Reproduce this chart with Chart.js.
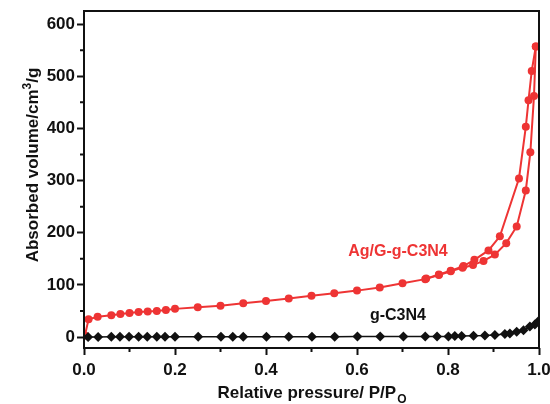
<!DOCTYPE html>
<html>
<head>
<meta charset="utf-8">
<title>N2 isotherms</title>
<script src="https://cdn.jsdelivr.net/npm/chart.js@4/dist/chart.umd.min.js"></script>
<style>
  html, body { margin: 0; padding: 0; background: #fff; }
  canvas { display: block; }
</style>
</head>
<body>
<canvas id="isothermChart" width="550" height="404"></canvas>
<script>
// Ag/G-g-C3N4, adsorption branch
const agAdsP = [0.002, 0.010, 0.030, 0.060, 0.080, 0.100, 0.120, 0.140, 0.160, 0.180, 0.200, 0.250, 0.300, 0.350, 0.400, 0.450, 0.500, 0.550, 0.600, 0.650, 0.700, 0.750, 0.780, 0.806, 0.832, 0.855, 0.878, 0.903, 0.928, 0.951, 0.971, 0.981, 0.989, 0.993];
const agAdsV = [3, 34, 39, 42, 44, 46, 48, 49, 50, 52, 54, 57, 60, 65, 69, 74, 79, 84, 89, 95, 103, 111, 119, 126, 133, 138, 146, 158, 180, 212, 281, 354, 462, 557];

// Ag/G-g-C3N4, desorption branch
const agDesP = [0.993, 0.984, 0.977, 0.971, 0.956, 0.914, 0.889, 0.858, 0.834, 0.806, 0.780, 0.752];
const agDesV = [557, 510, 454, 403, 304, 193, 166, 148, 136, 127, 120, 112];

// g-C3N4
const gcnP = [0.009, 0.031, 0.060, 0.079, 0.099, 0.120, 0.139, 0.160, 0.178, 0.200, 0.251, 0.301, 0.327, 0.350, 0.401, 0.450, 0.501, 0.551, 0.601, 0.651, 0.702, 0.750, 0.776, 0.801, 0.815, 0.830, 0.856, 0.881, 0.903, 0.925, 0.936, 0.951, 0.966, 0.980, 0.991, 0.998];
const gcnV = [0, 0.3, 0.4, 0.5, 0.5, 0.5, 0.5, 0.5, 0.5, 0.5, 0.6, 0.6, 0.6, 0.6, 0.7, 0.7, 0.8, 0.8, 0.9, 0.9, 1, 1, 1, 1.2, 2, 2, 2.5, 3, 4, 6, 7, 10, 13, 20, 24, 30];

// axes
const xTicks = [0, 0.2, 0.4, 0.6, 0.8, 1.0];
const xMinor = [0.1, 0.3, 0.5, 0.7, 0.9];
const yTicks = [0, 100, 200, 300, 400, 500, 600];
const yMinor = [50, 150, 250, 350, 450, 550];

const RED = '#ee3434';
const INK = '#111';
const FONT = '"Liberation Sans", Arial, sans-serif';

const pairs = (xs, ys) => xs.map((x, i) => ({ x: x, y: ys[i] }));

// box, minor ticks, axis titles and curve labels
const decorations = {
  id: 'decorations',
  afterDraw(chart) {
    const { ctx, chartArea: a, scales: { x, y } } = chart;
    ctx.save();
    ctx.strokeStyle = INK;
    ctx.lineWidth = 2;
    ctx.strokeRect(a.left, a.top, a.right - a.left, a.bottom - a.top);

    ctx.beginPath();
    xMinor.forEach(v => {
      const px = x.getPixelForValue(v);
      ctx.moveTo(px, a.bottom);
      ctx.lineTo(px, a.bottom + 4);
    });
    yMinor.forEach(v => {
      const py = y.getPixelForValue(v);
      ctx.moveTo(a.left, py);
      ctx.lineTo(a.left - 4, py);
    });
    ctx.stroke();

    ctx.fillStyle = INK;
    ctx.textBaseline = 'alphabetic';
    ctx.textAlign = 'left';

    // x title with subscript
    const big = 'bold 17px ' + FONT;
    const small = 'bold 12px ' + FONT;
    const xMain = 'Relative pressure/ P/P';
    const xSub = 'O';
    ctx.font = big;
    const w1 = ctx.measureText(xMain).width;
    ctx.font = small;
    const w2 = ctx.measureText(xSub).width;
    let sx = (a.left + a.right) / 2 - (w1 + w2) / 2;
    ctx.font = big;
    ctx.fillText(xMain, sx, 398);
    ctx.font = small;
    ctx.fillText(xSub, sx + w1 + 1, 403);

    // y title with superscript
    const yA = 'Absorbed volume/cm';
    const yS = '3';
    const yB = '/g';
    ctx.font = big;
    const wa = ctx.measureText(yA).width;
    const wb = ctx.measureText(yB).width;
    ctx.font = small;
    const ws = ctx.measureText(yS).width;
    ctx.translate(38, 165);
    ctx.rotate(-Math.PI / 2);
    let tx = -(wa + ws + wb) / 2;
    ctx.font = big;
    ctx.fillText(yA, tx, 0);
    ctx.font = small;
    ctx.fillText(yS, tx + wa, -7);
    ctx.font = big;
    ctx.fillText(yB, tx + wa + ws, 0);
    ctx.setTransform(1, 0, 0, 1, 0, 0);

    // curve labels
    ctx.font = 'bold 16px ' + FONT;
    ctx.textAlign = 'center';
    ctx.textBaseline = 'middle';
    ctx.fillStyle = RED;
    ctx.fillText('Ag/G-g-C3N4', x.getPixelForValue(0.69), y.getPixelForValue(163));
    ctx.fillStyle = INK;
    ctx.fillText('g-C3N4', x.getPixelForValue(0.69), y.getPixelForValue(42));
    ctx.restore();
  }
};

const redSeries = (label, data) => ({
  label: label,
  data: data,
  showLine: true,
  borderColor: RED,
  backgroundColor: RED,
  borderWidth: 2,
  pointStyle: 'circle',
  pointRadius: 4,
  pointHoverRadius: 4,
  pointBorderWidth: 0,
  tension: 0,
  order: 2
});

new Chart(document.getElementById('isothermChart').getContext('2d'), {
  type: 'scatter',
  data: {
    datasets: [
      {
        label: 'g-C3N4',
        data: pairs(gcnP, gcnV),
        showLine: true,
        borderColor: INK,
        backgroundColor: INK,
        borderWidth: 1.5,
        pointStyle: 'rectRot',
        pointRadius: 5,
        pointHoverRadius: 5,
        pointBorderWidth: 0,
        order: 1
      },
      redSeries('Ag/G-g-C3N4 adsorption', pairs(agAdsP, agAdsV)),
      redSeries('Ag/G-g-C3N4 desorption', pairs(agDesP, agDesV))
    ]
  },
  options: {
    responsive: false,
    animation: false,
    layout: { padding: { top: 11, right: 11, left: 0, bottom: 0 } },
    plugins: {
      legend: { display: false },
      tooltip: { enabled: false }
    },
    scales: {
      x: {
        type: 'linear',
        min: 0,
        max: 1.0,
        afterBuildTicks: s => { s.ticks = xTicks.map(v => ({ value: v })); },
        afterFit: s => { s.height = 56; s.paddingLeft = 0; s.paddingRight = 0; },
        grid: { display: true, drawOnChartArea: false, drawTicks: true, tickLength: 7, tickColor: INK, tickWidth: 2 },
        border: { display: false },
        ticks: {
          color: INK,
          padding: 5,
          maxRotation: 0,
          font: { family: FONT, size: 17, weight: 'bold' },
          callback: v => v.toFixed(1)
        }
      },
      y: {
        type: 'linear',
        min: -21,
        max: 625,
        afterBuildTicks: s => { s.ticks = yTicks.map(v => ({ value: v })); },
        afterFit: s => { s.width = 84; s.paddingTop = 0; s.paddingBottom = 0; },
        grid: { display: true, drawOnChartArea: false, drawTicks: true, tickLength: 7, tickColor: INK, tickWidth: 2 },
        border: { display: false },
        ticks: {
          color: INK,
          padding: 2,
          font: { family: FONT, size: 17, weight: 'bold' },
          callback: v => String(v)
        }
      }
    }
  },
  plugins: [decorations]
});
</script>
</body>
</html>
